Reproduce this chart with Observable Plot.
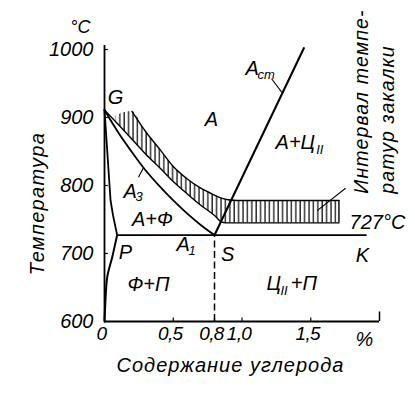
<!DOCTYPE html>
<html><head><meta charset="utf-8">
<script src="https://cdn.jsdelivr.net/npm/d3@7"></script>
<script src="https://cdn.jsdelivr.net/npm/@observablehq/plot@0.6"></script>
<style>body{margin:0;background:#fff} svg{display:block}</style>
</head><body><div id="chart"></div>
<script>
// axis ticks
const yTicks = [600, 700, 800, 900, 1000];
const yTickLabels = ["600", "700", "800", "900", "1000"];
const xTicks = [0, 0.5, 0.8, 1.0, 1.5];
const xTickLabels = ["0", "0,5", "0,8", "1,0", "1,5"];
const xAxisEnd = 2.0;

// critical temperatures / points
const eutectoidT = 727;
const pointP = 0.092, pointS = 0.8, pointK = 1.91;

// A3 line (GS)
const a3X = [0, 0.1, 0.2, 0.3, 0.4, 0.5, 0.6, 0.7, 0.8];
const a3T = [911, 878, 849, 822, 799, 778, 759, 742, 727];
// GP line
const gpX = [0, 0.044, 0.062, 0.092];
const gpT = [911, 778, 756, 727];
// PQ line
const pqX = [0.092, 0.056, 0.0196, 0.007, 0];
const pqT = [727, 694.6, 665, 631, 600];
// Acm line (SE)
const acmX = [0.8, 1.45];
const acmT = [727, 1002];

// hardening temperature interval (hatched band)
const bandX  = [0.085, 0.2, 0.3, 0.407, 0.5, 0.6, 0.7, 0.8, 0.856, 0.9, 0.965, 1.2, 1.705];
const bandLo = [893,   868, 846, 825,   806, 788, 771, 756, 746,   745, 745,   745, 745];
const bandHi = [903,   909, 879, 852,   828, 810, 796, 786, 781,   779, 778,   778, 778];
const lowerLineX = [0, ...bandX];
const lowerLineT = [911, ...bandLo];
const upperLineX = bandX.slice(1);
const upperLineT = bandHi.slice(1);

// region / point labels
const labText = ["G", "A", "A+Ф", "S", "K", "P", "Ф+П", "727°C", "%"];
const labX    = [0.08, 0.778, 0.349, 0.895, 1.876, 0.153, 0.32, 1.985, 1.89];
const labT    = [929, 897, 750, 698.5, 697, 701.5, 654, 745.6, 574];
// labels with subscripts: main part
const mainText = ["A", "A+Ц", "A", "A", "Ц", "+П"];
const mainX    = [1.025, 1.244, 0.138, 0.524, 1.178, 1.355];
const mainT    = [963, 854.4, 781, 703, 645.6, 645.6];
const subText  = ["cm", "II", "3", "1", "II"];
const subX     = [1.113, 1.54, 0.225, 0.611, 1.28];
const subT     = [957, 847, 776.5, 698.5, 639.7];
// leader lines
const leadX1 = [1.215, 0.247, 1.547];
const leadT1 = [957, 812, 763];
const leadX2 = [1.29, 0.285, 1.753];
const leadT2 = [937, 827, 796];

const band = bandX.map((x, i) => ({x, lo: bandLo[i], hi: bandHi[i]}));
const idx = a => a.map((_, i) => i);
const F = "'Liberation Sans', Arial, sans-serif";

const plot = Plot.plot({
  width: 415, height: 394,
  marginLeft: 104, marginRight: 36, marginTop: 49, marginBottom: 73,
  x: {domain: [0, xAxisEnd], axis: null},
  y: {domain: [600, 1000], axis: null},
  style: {fontFamily: F, background: "white", overflow: "visible"},
  marks: [
    Plot.areaY(band, {x: "x", y1: "lo", y2: "hi", fill: "url(#hatch)", curve: "monotone-x"}),
    Plot.line(idx(upperLineX), {x: i => upperLineX[i], y: i => upperLineT[i], stroke: "black", strokeWidth: 1.4, curve: "monotone-x"}),
    Plot.line(idx(lowerLineX), {x: i => lowerLineX[i], y: i => lowerLineT[i], stroke: "black", strokeWidth: 1.4, curve: "monotone-x"}),
    Plot.ruleX([band[band.length - 1]], {x: "x", y1: "lo", y2: "hi", stroke: "black", strokeWidth: 1.4}),
    Plot.line(idx(a3X), {x: i => a3X[i], y: i => a3T[i], stroke: "black", strokeWidth: 1.8, curve: "monotone-x"}),
    Plot.line(idx(gpX), {x: i => gpX[i], y: i => gpT[i], stroke: "black", strokeWidth: 1.8}),
    Plot.line(idx(pqX), {x: i => pqX[i], y: i => pqT[i], stroke: "black", strokeWidth: 2, curve: "monotone-y"}),
    Plot.line(idx(acmX), {x: i => acmX[i], y: i => acmT[i], stroke: "black", strokeWidth: 2.2}),
    Plot.ruleY([eutectoidT], {x1: pointP, x2: pointK, stroke: "black", strokeWidth: 1.8}),
    Plot.ruleX([pointS], {y1: 600, y2: eutectoidT, stroke: "black", strokeWidth: 1.5, strokeDasharray: "7,3.5"}),
    // axes
    Plot.ruleX([0], {y1: 600, y2: 1006, stroke: "black", strokeWidth: 1.8}),
    Plot.ruleY([600], {x1: 0, x2: xAxisEnd, stroke: "black", strokeWidth: 1.8}),
    Plot.ruleY(yTicks, {x1: 0, x2: 0.028, stroke: "black", strokeWidth: 1.2}),
    Plot.ruleX(xTicks, {y1: 600, y2: 605, stroke: "black", strokeWidth: 1.2}),
    Plot.ruleX([xAxisEnd], {y1: 600, y2: 614, stroke: "black", strokeWidth: 1.5}),
    Plot.text(yTicks, {frameAnchor: "left", y: d => d, text: (d, i) => yTickLabels[i], dx: -11, textAnchor: "end", fontSize: 20, fontStyle: "italic", fill: "black"}),
    Plot.text(xTicks, {frameAnchor: "bottom", x: d => d, text: (d, i) => xTickLabels[i], dy: 18, dx: -3, fontSize: 19, fontStyle: "italic", fill: "black"}),
    // axis titles
    Plot.text(["°C"], {x: -0.175, y: 1033, fontSize: 18, fontStyle: "italic", fill: "black"}),
    Plot.text(["Температура"], {x: -0.487, y: 773.5, rotate: -90, fontSize: 20, fontStyle: "italic", fill: "black"}),
    Plot.text(["Содержание углерода"], {x: 0.916, y: 535.3, fontSize: 20, fontStyle: "italic", fill: "black"}),
    Plot.text(["Интервал темпе-\nратур закалки"], {x: 1.789, y: 788, rotate: -90, textAnchor: "start", lineAnchor: "top", lineHeight: 1.3, fontSize: 19.5, fontStyle: "italic", fill: "black"}),
    // labels
    Plot.text(idx(labText), {x: i => labX[i], y: i => labT[i], text: i => labText[i], fontSize: 20, fontStyle: "italic", fill: "black"}),
    Plot.text(idx(mainText), {x: i => mainX[i], y: i => mainT[i], text: i => mainText[i], textAnchor: "start", lineAnchor: "bottom", fontSize: 20, fontStyle: "italic", fill: "black"}),
    Plot.text(idx(subText), {x: i => subX[i], y: i => subT[i], text: i => subText[i], textAnchor: "start", lineAnchor: "bottom", fontSize: 13, fontStyle: "italic", fill: "black"}),
    Plot.link(idx(leadX1), {x1: i => leadX1[i], y1: i => leadT1[i], x2: i => leadX2[i], y2: i => leadT2[i], stroke: "black", strokeWidth: 1.1})
  ]
});
const defs = document.createElementNS("http://www.w3.org/2000/svg", "defs");
defs.innerHTML = '<pattern id="hatch" patternUnits="userSpaceOnUse" width="4.4" height="8"><line x1="1" y1="0" x2="1" y2="8" stroke="black" stroke-width="1.2"/></pattern>';
plot.insertBefore(defs, plot.firstChild);
// letter spacing (text styling)
plot.querySelectorAll("text").forEach(t => {
  const s = t.textContent;
  if (xTickLabels.includes(s)) t.style.letterSpacing = "-0.7px";
  else if (s === "Температура") t.style.letterSpacing = "1.3px";
  else if (s === "Содержание углерода") t.style.letterSpacing = "1px";
  else if (s.startsWith("Интервал")) t.style.letterSpacing = "1.1px";
});
document.getElementById("chart").appendChild(plot);
</script></body></html>
